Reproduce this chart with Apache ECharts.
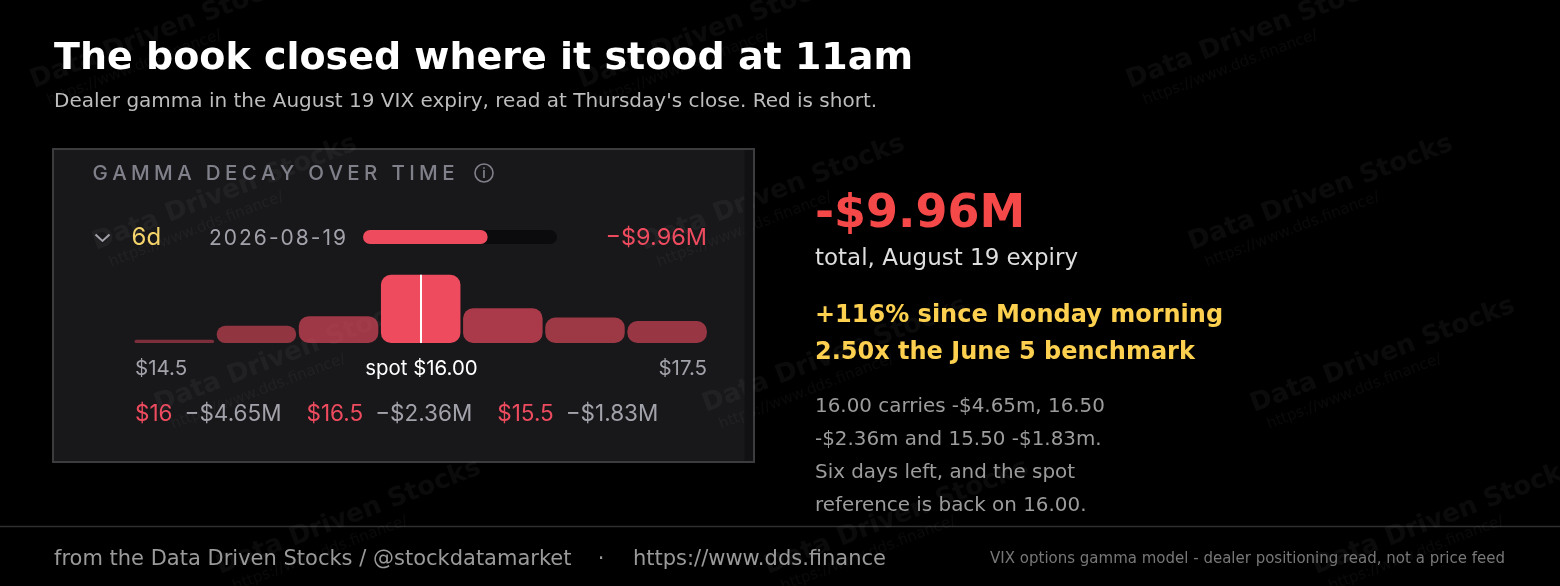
<!DOCTYPE html>
<html>
<head>
<meta charset="utf-8">
<script src="https://cdn.jsdelivr.net/npm/echarts@6/dist/echarts.min.js"></script>
<style>
html,body{margin:0;padding:0;background:#000;}
#chart{width:1560px;height:586px;}
</style>
</head>
<body>
<div id="chart"></div>
<script>
// ---------- data ----------
const strikes = ['14.5', '15', '15.5', '16', '16.5', '17', '17.5'];
const gammaM = [-0.22, -1.17, -1.83, -4.65, -2.36, -1.73, -1.50];
const spotStrike = '16';
const spotLabel = 'spot $16.00';
const totalM = -9.96;
const totalScaleM = -15.5;
const expiryDate = '2026-08-19';
const daysLeft = '6d';
const titleText = 'The book closed where it stood at 11am';
const subtitleText = "Dealer gamma in the August 19 VIX expiry, read at Thursday's close. Red is short.";
const sideHeadline = '-$9.96M';
const sideSub = 'total, August 19 expiry';
const sideHighlights = ['+116% since Monday morning', '2.50x the June 5 benchmark'];
const sideNotes = ['16.00 carries -$4.65m, 16.50', '-$2.36m and 15.50 -$1.83m.', 'Six days left, and the spot', 'reference is back on 16.00.'];
const footerLeft = 'from the Data Driven Stocks / @stockdatamarket';
const footerUrl = 'https://www.dds.finance';
const footerRight = 'VIX options gamma model - dealer positioning read, not a price feed';

// ---------- helpers ----------
const PANEL_FONT = 'Inter, "Noto Sans", sans-serif';
const MAIN_FONT = '"DejaVu Sans", sans-serif';
const measureCtx = document.createElement('canvas').getContext('2d');
// distance from canvas "middle" baseline down to the alphabetic baseline
function midOffset(font) {
  measureCtx.font = font;
  measureCtx.textBaseline = 'middle';
  const d = measureCtx.measureText('H').actualBoundingBoxDescent;
  measureCtx.textBaseline = 'alphabetic';
  return d;
}
function txt(str, x, baseline, font, fill, align, z) {
  return {type: 'text', x: x, y: baseline - midOffset(font), z: z || 5, silent: true,
    style: {text: str, font: font, fill: fill, textAlign: align || 'left', textVerticalAlign: 'middle'}};
}
function spacedText(str, x, baseline, size, weight, fill, totalWidth) {
  const font = weight + ' ' + size + 'px ' + PANEL_FONT;
  measureCtx.font = font;
  const chars = str.split('');
  const widths = chars.map(c => measureCtx.measureText(c).width);
  const sum = widths.reduce((a, b) => a + b, 0);
  const gap = (totalWidth - sum) / (chars.length - 1);
  const out = [];
  let cx = x;
  chars.forEach((c, i) => {
    if (c !== ' ') out.push(txt(c, cx, baseline, font, fill, 'left'));
    cx += widths[i] + gap;
  });
  return out;
}
const fmtStrike = s => '$' + s;
const fmtM = v => (v < 0 ? '\u2212' : '') + '$' + Math.abs(v).toFixed(2) + 'M';

// bar colours derived from magnitude
const barData = gammaM.map((v, i) => {
  const isSpot = strikes[i] === spotStrike;
  const a = isSpot ? 1 : Math.min(1, 0.45 + 0.1 * Math.abs(v));
  return {value: v, itemStyle: {color: isSpot ? '#ee4b5f' : 'rgba(238,75,95,' + a.toFixed(3) + ')'}};
});

// top three strikes by magnitude
const top3 = strikes.map((s, i) => ({s: s, v: gammaM[i]}))
  .sort((a, b) => Math.abs(b.v) - Math.abs(a.v)).slice(0, 3);

// ---------- graphic ----------
const graphic = [];
graphic.push({type: 'rect', z: 0, silent: true, shape: {x: 53, y: 149, width: 701, height: 313},
  style: {fill: '#18181b', stroke: '#3c3c3e', lineWidth: 2}});
graphic.push({type: 'rect', z: 1, silent: true, shape: {x: 744.5, y: 150, width: 8.5, height: 311},
  style: {fill: '#111113'}});
graphic.push({type: 'line', z: 0, silent: true, shape: {x1: 0, y1: 526.5, x2: 1560, y2: 526.5},
  style: {stroke: '#2f2f2f', lineWidth: 1.5}});

// title / subtitle
graphic.push(txt(titleText, 54, 69, 'bold 38px ' + MAIN_FONT, '#ffffff'));
graphic.push(txt(subtitleText, 54, 107, '20px ' + MAIN_FONT, '#bdbdbd'));

// panel header
spacedText('GAMMA DECAY OVER TIME', 92.5, 180, 20.5, '500', '#80808a', 362).forEach(e => graphic.push(e));
graphic.push({type: 'circle', z: 5, silent: true, shape: {cx: 484, cy: 173, r: 9},
  style: {fill: 'none', stroke: '#80808a', lineWidth: 1.6}});
graphic.push(txt('i', 484, 178, '600 13px ' + PANEL_FONT, '#80808a', 'center'));

// expiry row
graphic.push({type: 'polyline', z: 5, silent: true, shape: {points: [[95.5, 234.5], [102.5, 241], [109.5, 234.5]]},
  style: {stroke: '#a2a2aa', lineWidth: 2, fill: 'none'}});
graphic.push(txt(daysLeft, 131.5, 245, '24px ' + PANEL_FONT, '#f3d36a'));
spacedText(expiryDate, 209, 245, 21, '400', '#a2a2aa', 137).forEach(e => graphic.push(e));
graphic.push(txt(fmtM(totalM), 707, 245, '23.5px ' + PANEL_FONT, '#ee4b5f', 'right'));

// strike labels
graphic.push(txt(fmtStrike(strikes[0]), 135, 375, '20.5px ' + PANEL_FONT, '#a2a2aa'));
graphic.push(txt(spotLabel, 421.5, 375, '20.4px ' + PANEL_FONT, '#ffffff', 'center'));
graphic.push(txt(fmtStrike(strikes[strikes.length - 1]), 707, 375, '20.5px ' + PANEL_FONT, '#a2a2aa', 'right'));

// top three row
(function () {
  const font = '22.5px ' + PANEL_FONT;
  measureCtx.font = font;
  let x = 135;
  top3.forEach(t => {
    const a = fmtStrike(t.s), b = fmtM(t.v);
    graphic.push(txt(a, x, 421, font, '#ee4b5f'));
    x += measureCtx.measureText(a).width + 12;
    graphic.push(txt(b, x, 421, font, '#a2a2aa'));
    x += measureCtx.measureText(b).width + 25;
  });
})();

// right column
graphic.push(txt(sideHeadline, 815, 227, 'bold 46px ' + MAIN_FONT, '#f54848'));
graphic.push(txt(sideSub, 815, 265, '23px ' + MAIN_FONT, '#dedede'));
sideHighlights.forEach((s, i) => graphic.push(txt(s, 815, 322 + i * 36.5, 'bold 24px ' + MAIN_FONT, '#fdd04f')));
sideNotes.forEach((s, i) => graphic.push(txt(s, 815, 412 + i * 33, '19.9px ' + MAIN_FONT, '#9c9c9c')));

// footer
graphic.push(txt(footerLeft, 54, 565, '21px ' + MAIN_FONT, '#9a9a9a'));
graphic.push(txt('\u00b7', 601, 565, '21px ' + MAIN_FONT, '#9a9a9a', 'center'));
graphic.push(txt(footerUrl, 633, 565, '21px ' + MAIN_FONT, '#9a9a9a'));
graphic.push(txt(footerRight, 1505, 563, '15px ' + MAIN_FONT, '#777777', 'right'));

// watermarks
const wmFont = 'bold 26px ' + MAIN_FONT, wmUrlFont = '15px ' + MAIN_FONT;
const wmOff = midOffset(wmFont), wmUrlOff = midOffset(wmUrlFont);
for (let r = 0; r < 5; r++) {
  for (let c = -1; c < 3; c++) {
    const x = -28 + 548 * c + 62 * r;
    const y = -74 + 162 * r;
    if (x < -400 || x > 1600) continue;
    graphic.push({type: 'group', x: x, y: y, rotation: 0.367, z: 20, silent: true,
      children: [
        {type: 'text', x: 0, y: -wmOff, silent: true, style: {text: 'Data Driven Stocks', font: wmFont,
          fill: 'rgba(255,255,255,0.045)', textAlign: 'left', textVerticalAlign: 'middle'}},
        {type: 'text', x: 8, y: 21 - wmUrlOff, silent: true, style: {text: 'https://www.dds.finance/', font: wmUrlFont,
          fill: 'rgba(255,255,255,0.04)', textAlign: 'left', textVerticalAlign: 'middle'}}
      ]});
  }
}

// ---------- chart ----------
const chart = echarts.init(document.getElementById('chart'), null, {renderer: 'canvas'});
chart.setOption({
  backgroundColor: '#000000',
  animation: false,
  grid: [
    {left: 133.2, top: 269.6, width: 575, height: 73.4, containLabel: false},
    {left: 363, top: 230, width: 194, height: 14, containLabel: false}
  ],
  xAxis: [
    {type: 'category', gridIndex: 0, data: strikes, show: false, boundaryGap: true},
    {type: 'value', gridIndex: 1, min: totalScaleM, max: 0, inverse: true, show: false}
  ],
  yAxis: [
    {type: 'value', gridIndex: 0, min: -5, max: 0, inverse: true, show: false},
    {type: 'category', gridIndex: 1, data: [expiryDate], show: false}
  ],
  series: [
    {
      type: 'bar', xAxisIndex: 0, yAxisIndex: 0, data: barData, barWidth: 79.5,
      itemStyle: {borderRadius: 10}, silent: true,
      markLine: {
        silent: true, symbol: 'none', label: {show: false},
        lineStyle: {color: '#ffffff', width: 2, type: 'solid'},
        data: [[{coord: [spotStrike, 0]}, {coord: [spotStrike, gammaM[strikes.indexOf(spotStrike)]]}]]
      }
    },
    {
      type: 'bar', xAxisIndex: 1, yAxisIndex: 1, data: [totalM], barWidth: 14,
      itemStyle: {color: '#ee4b5f', borderRadius: 7},
      showBackground: true, backgroundStyle: {color: '#0b0b0d', borderRadius: 7}, silent: true
    }
  ],
  graphic: graphic
});
</script>
</body>
</html>
